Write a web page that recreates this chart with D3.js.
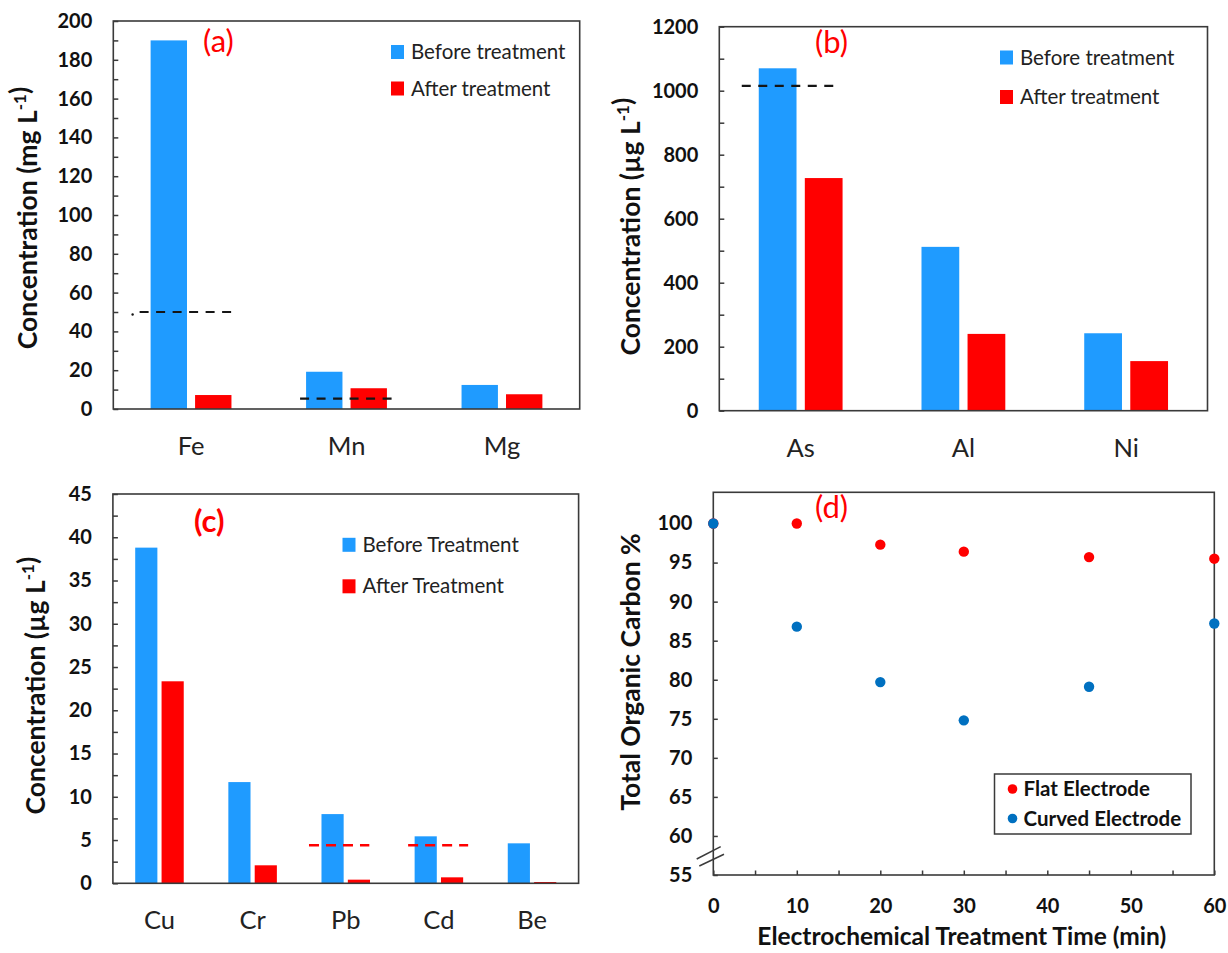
<!DOCTYPE html>
<html>
<head>
<meta charset="utf-8">
<script src="https://cdn.jsdelivr.net/npm/d3@7"></script>
<style>
  html, body { margin: 0; padding: 0; background: #fff; }
  svg { display: block; font-family: Lato, "Open Sans", sans-serif; }
</style>
</head>
<body>
<svg id="chart" width="1228" height="953"></svg>
<script>
// ---- (a) major ions, mg/L ----
const ionCategories = ["Fe", "Mn", "Mg"];
const ionBefore = [190, 19.2, 12.4];
const ionAfter = [7.2, 10.7, 7.6];
const ionLimitCats = ["Fe", "Mn"];
const ionLimitVals = [50, 5.3];

// ---- (b) trace metals, µg/L ----
const traceCategories = ["As", "Al", "Ni"];
const traceBefore = [1070, 512, 242];
const traceAfter = [727, 240, 155];
const traceLimitCats = ["As"];
const traceLimitVals = [1015];

// ---- (c) heavy metals, µg/L ----
const heavyCategories = ["Cu", "Cr", "Pb", "Cd", "Be"];
const heavyBefore = [38.8, 11.7, 8.0, 5.43, 4.62];
const heavyAfter = [23.35, 2.08, 0.42, 0.69, 0.15];
const heavyLimitCats = ["Pb", "Cd"];
const heavyLimitVals = [4.4, 4.4];

// ---- (d) total organic carbon over treatment time ----
const tocTimes = [0, 10, 20, 30, 45, 60];
const tocFlat = [100, 100, 97.3, 96.4, 95.7, 95.5];
const tocCurved = [100, 86.8, 79.7, 74.8, 79.1, 87.2];

const BLUE = "#1F9BFF";
const RED = "#FF0000";
const DARK_BLUE = "#0070C0";
const INK = "#111";
const FRAME = "#3a3a3a";

const svg = d3.select("#chart");

function yTitle(g, x, yc, parts, size) {
  const t = g.append("text")
    .attr("transform", `translate(${x},${yc}) rotate(-90)`)
    .attr("text-anchor", "middle")
    .attr("dominant-baseline", "central")
    .attr("font-size", size).attr("font-weight", 700).attr("fill", INK);
  parts.forEach(p => {
    if (p.sup) {
      t.append("tspan").attr("dy", "-0.45em").attr("font-size", size * 0.64).text(p.sup);
      t.append("tspan").attr("dy", "0.45em").text("");
    } else {
      t.append("tspan").text(p.text);
    }
  });
}

function barPanel(cfg) {
  const g = svg.append("g");
  const x = d3.scaleBand().domain(cfg.categories).range([cfg.left, cfg.right]);
  const y = d3.scaleLinear().domain(cfg.domain).range([cfg.bottom, cfg.top]);
  const bw = x.bandwidth();
  const barW = cfg.barFrac * bw, gap = cfg.gapFrac * bw;
  const cx = c => x(c) + bw / 2;

  const rows = cfg.categories.map((c, i) => ({ c, before: cfg.before[i], after: cfg.after[i] }));

  g.selectAll("rect.before").data(rows).join("rect").attr("class", "before")
    .attr("x", d => cx(d.c) - gap / 2 - barW)
    .attr("y", d => y(d.before))
    .attr("width", barW)
    .attr("height", d => y(0) - y(d.before))
    .attr("fill", BLUE);

  g.selectAll("rect.after").data(rows).join("rect").attr("class", "after")
    .attr("x", d => cx(d.c) + gap / 2)
    .attr("y", d => y(d.after))
    .attr("width", barW)
    .attr("height", d => y(0) - y(d.after))
    .attr("fill", RED);

  // guideline values drawn as dashed segments across a category's bar pair
  const limits = cfg.limitCats.map((c, i) => ({ c, v: cfg.limitVals[i], ext: cfg.limitExt[i] }));
  g.selectAll("line.limit").data(limits).join("line").attr("class", "limit")
    .attr("x1", d => cx(d.c) - gap / 2 - barW + d.ext[0])
    .attr("x2", d => cx(d.c) + gap / 2 + barW + d.ext[1])
    .attr("y1", d => y(d.v)).attr("y2", d => y(d.v))
    .attr("stroke", cfg.limitColor)
    .attr("stroke-width", cfg.limitWidth)
    .attr("stroke-dasharray", cfg.limitDash);
  if (cfg.limitDot) {
    const d0 = limits[0];
    g.append("circle")
      .attr("cx", cx(d0.c) - gap / 2 - barW + d0.ext[0] - 7)
      .attr("cy", y(d0.v) + 2.5).attr("r", 1.2).attr("fill", cfg.limitColor);
  }

  // inward minor/major ticks
  const tickVals = d3.range(cfg.domain[0], cfg.domain[1] + 1e-9, cfg.minor);
  const tg = g.append("g").attr("transform", `translate(${cfg.left},0)`)
    .call(d3.axisLeft(y).tickValues(tickVals).tickSize(-5).tickFormat(""));
  tg.select(".domain").remove();
  tg.selectAll("line").attr("stroke", FRAME).attr("stroke-width", 1.5);

  const labVals = d3.range(cfg.domain[0], cfg.domain[1] + 1e-9, cfg.major);
  const lg = g.append("g").attr("transform", `translate(${cfg.left},0)`)
    .call(d3.axisLeft(y).tickValues(labVals).tickSize(0).tickPadding(21).tickFormat(d3.format("d")));
  lg.select(".domain").remove();
  lg.selectAll("text").attr("font-family", "Lato, sans-serif")
    .attr("font-size", 20).attr("font-weight", 700).attr("fill", INK);

  g.append("rect")
    .attr("x", cfg.left).attr("y", cfg.top)
    .attr("width", cfg.right - cfg.left).attr("height", cfg.bottom - cfg.top)
    .attr("fill", "none").attr("stroke", FRAME).attr("stroke-width", 1.6);

  // category labels
  const xg = g.append("g").attr("transform", `translate(0,${cfg.bottom})`)
    .call(d3.axisBottom(x).tickSize(0).tickPadding(28));
  xg.select(".domain").remove();
  xg.selectAll("text").attr("font-family", "Lato, sans-serif")
    .attr("font-size", 25.5).attr("fill", "#222");

  yTitle(g, cfg.titleX, (cfg.top + cfg.bottom) / 2 + cfg.titleShift, cfg.title, 26.5);

  g.append("text").attr("x", cfg.tag[0]).attr("y", cfg.tag[1])
    .attr("font-size", 31).attr("font-weight", cfg.tagBold ? 700 : 400)
    .attr("fill", RED).text(cfg.tagText);

  const leg = g.append("g").attr("transform", `translate(${cfg.legend[0]},${cfg.legend[1]})`);
  const legItems = [{ c: BLUE, t: cfg.legendTexts[0] }, { c: RED, t: cfg.legendTexts[1] }];
  legItems.forEach((it, i) => {
    leg.append("rect").attr("x", 0).attr("y", i * cfg.legendStep - 14)
      .attr("width", 13).attr("height", 14).attr("fill", it.c);
    leg.append("text").attr("x", 20).attr("y", i * cfg.legendStep)
      .attr("font-size", 20.5).attr("fill", "#222").text(it.t);
  });
}

barPanel({
  categories: ionCategories, before: ionBefore, after: ionAfter,
  limitCats: ionLimitCats, limitVals: ionLimitVals,
  limitExt: [[-11, 2], [-6, 7]], limitColor: "#151515", limitWidth: 2.2, limitDash: "9,7.5",
  limitDot: true,
  left: 113.3, right: 579.7, top: 21, bottom: 409, domain: [0, 200], major: 20, minor: 10,
  barFrac: 0.234, gapFrac: 0.052,
  titleX: 27, titleShift: 3,
  title: [{ text: "Concentration (mg L" }, { sup: "-1" }, { text: ")" }],
  tag: [203, 52], tagText: "(a)", tagBold: false,
  legend: [391, 59], legendStep: 36.5, legendTexts: ["Before treatment", "After treatment"]
});

barPanel({
  categories: traceCategories, before: traceBefore, after: traceAfter,
  limitCats: traceLimitCats, limitVals: traceLimitVals,
  limitExt: [[-17, -7]], limitColor: "#151515", limitWidth: 2.2, limitDash: "9,7.5",
  limitDot: false,
  left: 719.3, right: 1207.5, top: 26.7, bottom: 410.7, domain: [0, 1200], major: 200, minor: 100,
  barFrac: 0.232, gapFrac: 0.051,
  titleX: 630, titleShift: 8,
  title: [{ text: "Concentration (µg L" }, { sup: "-1" }, { text: ")" }],
  tag: [815, 53], tagText: "(b)", tagBold: false,
  legend: [1000, 64.5], legendStep: 39.5, legendTexts: ["Before treatment", "After treatment"]
});

barPanel({
  categories: heavyCategories, before: heavyBefore, after: heavyAfter,
  limitCats: heavyLimitCats, limitVals: heavyLimitVals,
  limitExt: [[-12.5, -0.7], [-6.5, 5]], limitColor: RED, limitWidth: 2.6, limitDash: "10,7",
  limitDot: false,
  left: 112.9, right: 578.6, top: 494, bottom: 883.3, domain: [0, 45], major: 5, minor: 2.5,
  barFrac: 0.238, gapFrac: 0.045,
  titleX: 34.5, titleShift: -3,
  title: [{ text: "Concentration (µg L" }, { sup: "-1" }, { text: ")" }],
  tag: [194, 532], tagText: "(c)", tagBold: true,
  legend: [342.5, 551.8], legendStep: 41.5, legendTexts: ["Before Treatment", "After Treatment"]
});

// ---- (d) scatter ----
(function () {
  const left = 713.3, right = 1214.3, top = 492.3, bottom = 875;
  const g = svg.append("g");
  const x = d3.scaleLinear().domain([0, 60]).range([left, right]);
  const y = d3.scaleLinear().domain([55, 104]).range([bottom, top]);

  const xt = g.append("g").attr("transform", `translate(0,${bottom})`)
    .call(d3.axisBottom(x).tickValues(d3.range(0, 61, 5)).tickSize(-4.5).tickFormat(""));
  xt.select(".domain").remove();
  xt.selectAll("line").attr("stroke", FRAME).attr("stroke-width", 1.5);
  const xl = g.append("g").attr("transform", `translate(0,${bottom})`)
    .call(d3.axisBottom(x).tickValues(d3.range(0, 61, 10)).tickSize(0).tickPadding(24));
  xl.select(".domain").remove();
  xl.selectAll("text").attr("font-family", "Lato, sans-serif")
    .attr("font-size", 20).attr("font-weight", 700).attr("fill", INK);

  const yt = g.append("g").attr("transform", `translate(${left},0)`)
    .call(d3.axisLeft(y).tickValues(d3.range(55, 101, 5)).tickSize(-4.5).tickFormat(""));
  yt.select(".domain").remove();
  yt.selectAll("line").attr("stroke", FRAME).attr("stroke-width", 1.5);
  const yl = g.append("g").attr("transform", `translate(${left},0)`)
    .call(d3.axisLeft(y).tickValues(d3.range(55, 101, 5)).tickSize(0).tickPadding(21));
  yl.select(".domain").remove();
  yl.selectAll("text").attr("font-family", "Lato, sans-serif")
    .attr("font-size", 20).attr("font-weight", 700).attr("fill", INK);

  g.append("rect").attr("x", left).attr("y", top)
    .attr("width", right - left).attr("height", bottom - top)
    .attr("fill", "none").attr("stroke", FRAME).attr("stroke-width", 1.6);

  // axis break marks near the bottom of the y axis
  [[-16.6, 859, 7.4, 846.7], [-14, 866, 10.7, 854.3]].forEach(s => {
    g.append("line").attr("x1", left + s[0]).attr("y1", s[1])
      .attr("x2", left + s[2]).attr("y2", s[3])
      .attr("stroke", FRAME).attr("stroke-width", 1.5);
  });

  const flat = tocTimes.map((t, i) => ({ t, v: tocFlat[i] }));
  const curved = tocTimes.map((t, i) => ({ t, v: tocCurved[i] }));
  g.selectAll("circle.flat").data(flat).join("circle").attr("class", "flat")
    .attr("cx", d => x(d.t)).attr("cy", d => y(d.v)).attr("r", 5.2).attr("fill", RED);
  g.selectAll("circle.curved").data(curved).join("circle").attr("class", "curved")
    .attr("cx", d => x(d.t)).attr("cy", d => y(d.v)).attr("r", 5.2).attr("fill", DARK_BLUE);

  yTitle(g, 630, 672, [{ text: "Total Organic Carbon %" }], 26.5);

  g.append("text").attr("x", (left + right) / 2 - 2).attr("y", 945)
    .attr("text-anchor", "middle").attr("font-size", 24.5).attr("font-weight", 700)
    .attr("fill", INK).text("Electrochemical Treatment Time (min)");

  g.append("text").attr("x", 815).attr("y", 518)
    .attr("font-size", 31).attr("fill", RED).text("(d)");

  // legend box
  g.append("rect").attr("x", 994.5).attr("y", 774).attr("width", 196.5).attr("height", 60)
    .attr("fill", "#fff").attr("stroke", FRAME).attr("stroke-width", 1.5);
  [{ c: RED, t: "Flat Electrode", y: 789 }, { c: DARK_BLUE, t: "Curved Electrode", y: 818.5 }].forEach(it => {
    g.append("circle").attr("cx", 1012.5).attr("cy", it.y).attr("r", 4.8).attr("fill", it.c);
    g.append("text").attr("x", 1023.5).attr("y", it.y + 7)
      .attr("font-size", 20.5).attr("font-weight", 700).attr("fill", "#111").text(it.t);
  });
})();
</script>
</body>
</html>
